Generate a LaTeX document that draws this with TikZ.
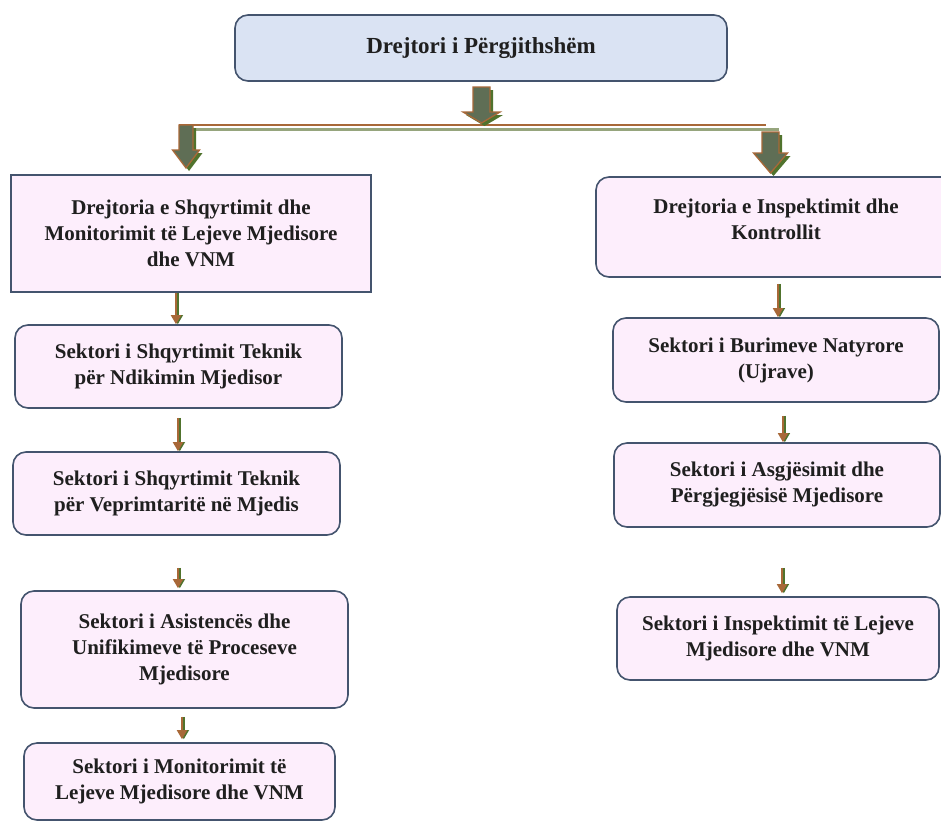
\documentclass[tikz,border=0pt]{standalone}
\usepackage{fontspec}
\setmainfont{Liberation Serif}
\usetikzlibrary{arrows.meta}
\definecolor{bordc}{RGB}{68,84,110}
\definecolor{topfill}{RGB}{218,227,243}
\definecolor{pinkfill}{RGB}{253,238,252}
\definecolor{brownc}{RGB}{168,104,56}
\definecolor{arrfill}{RGB}{95,110,85}
\definecolor{shadowg}{RGB}{80,115,45}
\definecolor{lineg}{RGB}{150,165,125}
\newcommand{\blockarrowpath}[6]{({#1-#5},#2) -- ({#1+#5},#2) -- ({#1+#5},#3) -- ({#1+#6},#3) -- (#1,#4) -- ({#1-#6},#3) -- ({#1-#5},#3) -- cycle}
\newcommand{\blockarrow}[6]{%
  \begin{scope}[shift={(3,3)}]
    \fill[shadowg] \blockarrowpath{#1}{#2}{#3}{#4}{#5}{#6};
  \end{scope}
  \filldraw[fill=arrfill, draw=brownc, line width=1.3pt] \blockarrowpath{#1}{#2}{#3}{#4}{#5}{#6};
}
\begin{document}
\begin{tikzpicture}[x=1pt,y=-1pt,
  txt/.style={align=center, font=\fontsize{21}{26}\selectfont\bfseries, text=black!88, inner sep=0pt},
  box/.style={txt, draw=bordc, line width=1.6pt, fill=pinkfill},
  rbox/.style={box, rounded corners=13pt},
  sarr/.style={draw=brownc, line width=1.8pt, -{Triangle[width=10pt,length=9pt]}},
  sarrsh/.style={draw=shadowg, line width=1.8pt, -{Triangle[width=10pt,length=9pt]}, xshift=1.8pt, yshift=-1pt}]
\useasboundingbox (0,0) rectangle (941,822);
\clip (0,0) rectangle (941,822);
\fill[white] (0,0) rectangle (941,822);

% nodes
\node[rbox, fill=topfill, minimum width=492pt, minimum height=66pt, font=\fontsize{23}{28}\selectfont\bfseries] (top) at (481,48) {Drejtori i Përgjithshëm};
\node[box, minimum width=360pt, minimum height=117pt] (l1) at (191,233.5) {Drejtoria e Shqyrtimit dhe\\Monitorimit të Lejeve Mjedisore\\dhe VNM};
\node[rbox, minimum width=327pt, minimum height=83pt] (l2) at (178.5,366.5) {Sektori i Shqyrtimit Teknik\\për Ndikimin Mjedisor};
\node[rbox, minimum width=327pt, minimum height=83pt] (l3) at (176.5,493.5) {Sektori i Shqyrtimit Teknik\\për Veprimtaritë në Mjedis};
\node[rbox, minimum width=327pt, minimum height=117pt] (l4) at (184.5,649.5) {Sektori i Asistencës dhe\\Unifikimeve të Proceseve\\Mjedisore};
\node[rbox, minimum width=311pt, minimum height=77pt] (l5) at (179.5,781.5) {Sektori i Monitorimit të\\Lejeve Mjedisore dhe VNM};

\node[rbox, minimum width=360pt, minimum height=100pt] (r1) at (776,227) {};
\node[txt] (r1t) at (776,219) {Drejtoria e Inspektimit dhe\\Kontrollit};
\node[rbox, minimum width=326pt, minimum height=84pt] (r2) at (776,360) {Sektori i Burimeve Natyrore\\(Ujrave)};
\node[rbox, minimum width=326pt, minimum height=84pt] (r3) at (777,485) {Sektori i Asgjësimit dhe\\Përgjegjësisë Mjedisore};
\node[rbox, minimum width=322pt, minimum height=83pt] (r4) at (778,638.5) {Sektori i Inspektimit të Lejeve\\Mjedisore dhe VNM};

% bus line
\coordinate (busL) at (179,125);
\coordinate (busR) at (766,125);
\draw[lineg, line width=2.4pt] ([shift={(14,4.5)}]busL) -- ([shift={(13,4.5)}]busR);
\draw[brownc, line width=1.5pt] (busL) -- (busR);

% block arrows
\blockarrow{481.5}{87}{112}{123}{8.5}{18.5}
\blockarrow{186}{125}{150}{168}{7}{13.5}
\blockarrow{770.5}{132}{153}{173}{8.5}{17}

% small arrows, left column
\draw[sarrsh] (176,0 |- l1.south) -- (176,0 |- l2.north);
\draw[sarr]   (176,0 |- l1.south) -- (176,0 |- l2.north);
\draw[sarrsh, shorten <=9pt] (178,0 |- l2.south) -- (178,0 |- l3.north);
\draw[sarr,   shorten <=9pt] (178,0 |- l2.south) -- (178,0 |- l3.north);
\draw[sarrsh, shorten <=32pt, shorten >=2pt] (178,0 |- l3.south) -- (178,0 |- l4.north);
\draw[sarr,   shorten <=32pt, shorten >=2pt] (178,0 |- l3.south) -- (178,0 |- l4.north);
\draw[sarrsh, shorten <=8pt, shorten >=3pt] (182,0 |- l4.south) -- (182,0 |- l5.north);
\draw[sarr,   shorten <=8pt, shorten >=3pt] (182,0 |- l4.south) -- (182,0 |- l5.north);

% small arrows, right column
\draw[sarrsh, shorten <=6pt] (778,0 |- r1.south) -- (778,0 |- r2.north);
\draw[sarr,   shorten <=6pt] (778,0 |- r1.south) -- (778,0 |- r2.north);
\draw[sarrsh, shorten <=13pt] (783,0 |- r2.south) -- (783,0 |- r3.north);
\draw[sarr,   shorten <=13pt] (783,0 |- r2.south) -- (783,0 |- r3.north);
\draw[sarrsh, shorten <=40pt, shorten >=3pt] (782,0 |- r3.south) -- (782,0 |- r4.north);
\draw[sarr,   shorten <=40pt, shorten >=3pt] (782,0 |- r3.south) -- (782,0 |- r4.north);
\end{tikzpicture}
\end{document}
